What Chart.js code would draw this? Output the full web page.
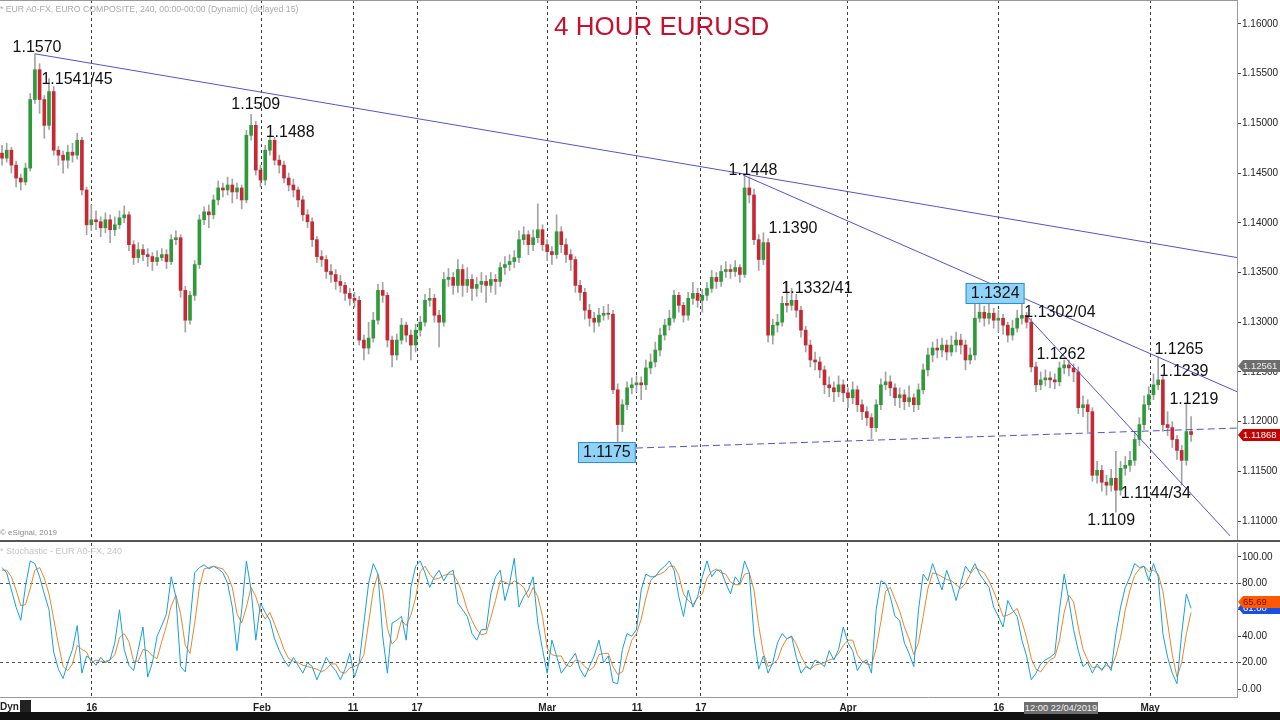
<!DOCTYPE html>
<html>
<head>
<meta charset="utf-8">
<script src="https://cdn.jsdelivr.net/npm/chart.js@4.4.1/dist/chart.umd.min.js"></script>
<style>
  html, body { margin: 0; padding: 0; background: #fff; }
  body { width: 1280px; height: 720px; position: relative; overflow: hidden; font-family: Arial, "Liberation Sans", sans-serif; }
  .abs { position: absolute; white-space: nowrap; }
  #priceWrap { left: 0; top: 0; width: 1280px; height: 540px; }
  #stochWrap { left: 0; top: 541px; width: 1280px; height: 171px; }
</style>
</head>
<body>
<div class="abs" id="priceWrap"><canvas id="price" width="1280" height="540"></canvas></div>
<div class="abs" id="stochWrap"><canvas id="stoch" width="1280" height="171"></canvas></div>

<div class="abs" style="left:0;top:0;width:1237px;height:1px;background:#999"></div>
<div class="abs" style="left:0;top:540px;width:1280px;height:2px;background:#555"></div>
<div class="abs" style="left:0;top:712px;width:1280px;height:8px;background:#111"></div>

<div class="abs" style="left:0;top:4px;font-size:8.7px;color:#aaa">* EUR A0-FX, EURO COMPOSITE, 240, 00:00-00:00 (Dynamic) (delayed 15)</div>
<div class="abs" style="left:554px;top:11px;font-size:26px;color:#c8102e">4 HOUR EURUSD</div>
<div class="abs" style="left:0;top:528px;font-size:8px;color:#888">© eSignal, 2019</div>
<div class="abs" style="left:0;top:546px;font-size:9px;color:#c4c4c4">* Stochastic - EUR A0-FX, 240</div>
<div class="abs" style="left:0;top:701px;font-size:10px;font-weight:bold;color:#222">Dyn</div>
<div class="abs" style="left:20px;top:700px;width:11px;height:12px;background:#222"></div>
<div class="abs" style="left:1024px;top:702px;width:74px;height:12px;background:#6e6e6e;color:#f2f2f2;font-size:9.3px;line-height:12px;text-align:center">12:00 22/04/2019</div>

<script>
// ---- 4h candles, Jan 2019 -> May 2019 (one entry per bar on the chart) ----
const closes = [
  1.1465,1.1473,1.1458,1.1445,1.1441,1.1455,1.1524,1.1554,1.1524,1.1498,
  1.1532,1.1473,1.1468,1.1463,1.1471,1.1468,1.1483,1.1433,1.1398,1.1403,
  1.1401,1.1395,1.1403,1.1393,1.1398,1.1405,1.1408,1.1378,1.1365,1.1373,
  1.1368,1.1366,1.1361,1.1365,1.1368,1.1361,1.1383,1.1385,1.1332,1.1302,
  1.1327,1.1358,1.1403,1.1411,1.1408,1.1423,1.1435,1.1433,1.1438,1.1431,
  1.1435,1.1423,1.1488,1.1498,1.1453,1.1443,1.1473,1.1483,1.1463,1.1458,
  1.1445,1.1438,1.1433,1.1423,1.1408,1.1401,1.1383,1.1366,1.1363,1.1351,
  1.1348,1.1341,1.1337,1.1329,1.1324,1.1322,1.1282,1.1274,1.1284,1.1302,
  1.1332,1.1327,1.1282,1.1267,1.1282,1.1297,1.1287,1.1277,1.1292,1.1300,
  1.1322,1.1324,1.1307,1.1300,1.1343,1.1345,1.1337,1.1353,1.1337,1.1343,
  1.1334,1.1338,1.1341,1.1337,1.1343,1.1341,1.1355,1.1358,1.1361,1.1365,
  1.1383,1.1388,1.1378,1.1385,1.1393,1.1378,1.1371,1.1368,1.1391,1.1378,
  1.1368,1.1363,1.1337,1.1330,1.1312,1.1304,1.1300,1.1307,1.1309,1.1308,
  1.1232,1.1197,1.1217,1.1234,1.1237,1.1239,1.1237,1.1254,1.1260,1.1272,
  1.1287,1.1297,1.1304,1.1327,1.1317,1.1307,1.1324,1.1329,1.1322,1.1327,
  1.1334,1.1345,1.1341,1.1351,1.1353,1.1351,1.1355,1.1348,1.1435,1.1428,
  1.1383,1.1363,1.1380,1.1287,1.1297,1.1300,1.1319,1.1317,1.1322,1.1312,
  1.1292,1.1277,1.1262,1.1260,1.1252,1.1237,1.1234,1.1230,1.1237,1.1229,
  1.1224,1.1232,1.1217,1.1210,1.1204,1.1194,1.1217,1.1237,1.1240,1.1234,
  1.1224,1.1227,1.1220,1.1224,1.1217,1.1232,1.1252,1.1267,1.1274,1.1272,
  1.1277,1.1270,1.1277,1.1282,1.1277,1.1262,1.1267,1.1304,1.1310,1.1304,
  1.1309,1.1302,1.1304,1.1297,1.1287,1.1294,1.1304,1.1307,1.1300,1.1255,
  1.1237,1.1242,1.1244,1.1242,1.1240,1.1254,1.1257,1.1254,1.1250,1.1214,
  1.1217,1.1210,1.1146,1.1151,1.1139,1.1136,1.1143,1.1131,1.1153,1.1156,
  1.1161,1.1182,1.1197,1.1217,1.1227,1.1237,1.1242,1.1197,1.1194,1.1182,
  1.1171,1.1161,1.1190,1.1187
];
const highs = [
  1.1478,1.1480,1.1476,1.1462,1.1449,1.1460,1.1530,1.1570,1.1560,1.1528,
  1.1545,1.1537,1.1477,1.1472,1.1478,1.1480,1.1490,1.1486,1.1436,1.1418,
  1.1412,1.1406,1.1410,1.1408,1.1406,1.1412,1.1417,1.1411,1.1382,1.1380,
  1.1378,1.1374,1.1370,1.1372,1.1374,1.1373,1.1388,1.1392,1.1388,1.1336,
  1.1331,1.1362,1.1408,1.1416,1.1418,1.1428,1.1442,1.1440,1.1446,1.1444,
  1.1440,1.1438,1.1493,1.1509,1.1502,1.1458,1.1478,1.1488,1.1486,1.1468,
  1.1462,1.1450,1.1444,1.1436,1.1427,1.1413,1.1405,1.1386,1.1372,1.1367,
  1.1358,1.1353,1.1347,1.1340,1.1334,1.1330,1.1326,1.1287,1.1300,1.1310,
  1.1338,1.1340,1.1330,1.1286,1.1288,1.1304,1.1300,1.1292,1.1298,1.1306,
  1.1328,1.1334,1.1328,1.1312,1.1350,1.1354,1.1350,1.1363,1.1358,1.1355,
  1.1348,1.1345,1.1350,1.1347,1.1350,1.1348,1.1360,1.1366,1.1368,1.1372,
  1.1392,1.1396,1.1392,1.1393,1.1419,1.1398,1.1383,1.1376,1.1408,1.1396,
  1.1384,1.1373,1.1366,1.1342,1.1334,1.1318,1.1310,1.1314,1.1316,1.1318,
  1.1312,1.1238,1.1222,1.1240,1.1244,1.1246,1.1245,1.1262,1.1268,1.1280,
  1.1294,1.1303,1.1312,1.1332,1.1330,1.1320,1.1330,1.1340,1.1334,1.1333,
  1.1340,1.1352,1.1350,1.1357,1.1361,1.1358,1.1362,1.1358,1.1448,1.1446,
  1.1434,1.1388,1.1390,1.1384,1.1303,1.1308,1.1326,1.1341,1.1334,1.1328,
  1.1316,1.1296,1.1282,1.1270,1.1265,1.1256,1.1245,1.1240,1.1246,1.1242,
  1.1234,1.1240,1.1236,1.1222,1.1215,1.1208,1.1222,1.1243,1.1250,1.1246,
  1.1238,1.1234,1.1232,1.1236,1.1228,1.1238,1.1258,1.1274,1.1280,1.1283,
  1.1284,1.1282,1.1286,1.1290,1.1288,1.1282,1.1274,1.1318,1.1324,1.1316,
  1.1318,1.1314,1.1312,1.1308,1.1300,1.1302,1.1312,1.1320,1.1310,1.1304,
  1.1260,1.1250,1.1252,1.1250,1.1248,1.1260,1.1262,1.1262,1.1258,1.1255,
  1.1226,1.1222,1.1214,1.1160,1.1156,1.1146,1.1152,1.1170,1.1160,1.1165,
  1.1170,1.1190,1.1204,1.1226,1.1235,1.1248,1.1265,1.1246,1.1210,1.1200,
  1.1186,1.1176,1.1219,1.1205
];
const lows = [
  1.1458,1.1461,1.1450,1.1436,1.1433,1.1438,1.1452,1.1520,1.1510,1.1485,
  1.1494,1.1468,1.1458,1.1450,1.1455,1.1461,1.1464,1.1428,1.1388,1.1392,
  1.1393,1.1386,1.1390,1.1380,1.1387,1.1394,1.1400,1.1372,1.1358,1.1360,
  1.1362,1.1356,1.1352,1.1357,1.1362,1.1354,1.1358,1.1378,1.1325,1.1290,
  1.1298,1.1322,1.1354,1.1398,1.1395,1.1404,1.1418,1.1426,1.1428,1.1420,
  1.1424,1.1414,1.1420,1.1483,1.1448,1.1436,1.1438,1.1468,1.1458,1.1450,
  1.1440,1.1432,1.1426,1.1416,1.1402,1.1395,1.1376,1.1360,1.1356,1.1344,
  1.1340,1.1333,1.1330,1.1322,1.1317,1.1315,1.1277,1.1262,1.1268,1.1280,
  1.1298,1.1320,1.1275,1.1255,1.1262,1.1278,1.1280,1.1262,1.1270,1.1286,
  1.1296,1.1316,1.1300,1.1275,1.1296,1.1336,1.1328,1.1330,1.1326,1.1330,
  1.1322,1.1326,1.1330,1.1320,1.1330,1.1328,1.1336,1.1348,1.1352,1.1355,
  1.1360,1.1378,1.1368,1.1372,1.1380,1.1372,1.1362,1.1358,1.1364,1.1370,
  1.1360,1.1352,1.1330,1.1322,1.1303,1.1296,1.1290,1.1296,1.1302,1.1303,
  1.1228,1.1178,1.1190,1.1212,1.1228,1.1230,1.1222,1.1232,1.1248,1.1255,
  1.1266,1.1282,1.1292,1.1300,1.1310,1.1300,1.1302,1.1318,1.1315,1.1310,
  1.1322,1.1330,1.1334,1.1336,1.1345,1.1344,1.1346,1.1340,1.1345,1.1420,
  1.1378,1.1352,1.1358,1.1280,1.1278,1.1290,1.1296,1.1310,1.1312,1.1305,
  1.1285,1.1270,1.1255,1.1252,1.1244,1.1228,1.1225,1.1220,1.1225,1.1220,
  1.1214,1.1218,1.1210,1.1202,1.1196,1.1183,1.1190,1.1212,1.1232,1.1226,
  1.1216,1.1214,1.1212,1.1215,1.1210,1.1212,1.1228,1.1246,1.1260,1.1264,
  1.1265,1.1262,1.1266,1.1270,1.1268,1.1252,1.1258,1.1262,1.1300,1.1296,
  1.1298,1.1294,1.1290,1.1288,1.1280,1.1282,1.1290,1.1298,1.1294,1.1250,
  1.1230,1.1232,1.1236,1.1234,1.1233,1.1236,1.1248,1.1246,1.1240,1.1208,
  1.1205,1.1190,1.1140,1.1138,1.1130,1.1126,1.1130,1.1109,1.1126,1.1146,
  1.1150,1.1156,1.1176,1.1192,1.1212,1.1222,1.1232,1.1190,1.1186,1.1174,
  1.1162,1.1136,1.1156,1.1180
];
// each bar opens where the previous one closed
const firstOpen = 1.1470;
const opens = [firstOpen].concat(closes.slice(0, -1));

// ---- Stochastic (fast line and its slow signal line) ----
const stochK = [
  92,88,75,62,52,78,97,95,85,72, 60,28,15,8,20,30,48,12,25,22,
  18,24,20,22,35,60,30,18,14,30, 47,9,20,40,48,57,85,70,17,13,
  50,88,92,94,91,93,91,88,80,62, 29,60,97,75,37,65,58,52,38,29,
  22,17,24,18,12,20,17,7,15,24, 18,14,7,15,27,9,20,50,80,95,
  87,40,12,50,52,55,37,77,93,97, 88,77,85,90,82,88,90,65,60,55,
  42,37,45,45,72,85,90,67,80,99, 62,70,75,85,50,30,12,37,25,12,
  17,22,27,15,9,17,25,37,20,25, 5,4,30,42,40,45,75,87,85,85,
  90,93,97,90,70,55,75,62,70,85, 97,85,90,90,80,72,85,80,97,88,
  40,15,25,12,20,35,42,38,40,24, 12,17,15,22,20,17,29,22,30,47,
  35,29,14,20,22,12,60,82,80,70, 55,52,35,27,17,60,87,82,95,85,
  75,90,80,67,80,93,88,95,87,82, 77,62,55,47,67,60,55,37,25,7,
  12,19,22,24,27,60,87,67,45,29, 17,20,12,19,14,20,14,42,62,77,
  85,95,92,93,82,95,85,42,24,12, 4,42,72,61
];
const stochD = [
  90,90,85,75,63,64,76,90,92,84, 72,53,34,17,14,19,33,30,28,20,
  22,21,21,22,26,39,42,36,21,21, 30,29,25,23,36,48,63,71,57,33,
  27,50,77,91,92,93,92,91,86,77, 57,50,62,77,70,59,53,58,49,40,
  30,23,21,20,18,17,16,15,13,15, 19,19,13,12,16,17,19,26,50,75,
  87,74,46,34,38,52,48,56,69,89, 93,87,83,84,86,87,87,81,72,60,
  52,45,41,42,54,67,82,81,79,82, 80,77,69,77,70,55,31,26,25,25,
  18,17,22,21,17,14,17,26,27,27, 17,11,13,25,37,42,53,69,82,86,
  87,89,93,93,86,72,67,64,69,72, 84,89,91,88,87,81,79,79,87,88,
  75,48,27,17,19,22,32,38,40,34, 25,18,15,18,19,20,22,23,27,33,
  37,37,26,21,19,18,31,51,74,77, 68,59,47,38,26,35,55,76,88,87,
  85,83,82,79,76,80,87,92,90,88, 82,74,65,55,56,58,61,51,39,23,
  15,13,18,22,24,37,58,71,66,47, 30,22,16,17,15,18,16,25,39,60,
  75,86,91,93,89,90,87,74,50,26, 9,20,42,58
];

// date ticks (bar index where the day starts) and their labels
const tickIdx = [19.1, 55.3, 74.7, 88.3, 116, 135.1, 148.7, 180, 212.1, 244.3];
const tickLabels = ["16", "Feb", "11", "17", "Mar", "11", "17", "Apr", "16", "May"];
const priceTicks = [1.110, 1.115, 1.120, 1.125, 1.130, 1.135, 1.140, 1.145, 1.150, 1.155, 1.160];
const stochTicks = [0, 20, 40, 60, 80, 100];

// hand-drawn trendlines: [startIndex, startPrice, endIndex, endPrice]
const trendLines = [
  [7, 1.1570, 262.8, 1.1365],
  [157.7, 1.1448, 262.8, 1.1230],
  [218.3, 1.1305, 261.3, 1.1085]
];
const supportLine = [134.9, 1.11734, 262.8, 1.11935];

// price notes written on the chart: text, bar index, price
const notes = [
  ["1.1570", 7.45, 1.15769],
  ["1.1541/45", 15.96, 1.15447],
  ["1.1509", 54.0, 1.15195],
  ["1.1488", 61.3, 1.14913],
  ["1.1448", 159.8, 1.14531],
  ["1.1390", 168.3, 1.13948],
  ["1.1332/41", 173.4, 1.13344],
  ["1.1302/04", 225.1, 1.13103],
  ["1.1262", 225.3, 1.12680],
  ["1.1265", 250.4, 1.12730],
  ["1.1239", 251.5, 1.12509],
  ["1.1219", 253.6, 1.12227],
  ["1.1144/34", 245.5, 1.11282],
  ["1.1109", 236.0, 1.11010]
];
const boxedNotes = [
  ["1.1175", 128.7, 1.11694],
  ["1.1324", 211.3, 1.13294]
];

const lastPrice = 1.11868;
const markPrice = 1.12561;
const lastStochK = 65.69;
const lastStochD = 61.0;

const X_MIN = -0.426, X_MAX = 262.77;
const UP = "#2f9a3a", DOWN = "#c62834", WICK = "#a3a3a3";
const LINE = "#5252d6";
const FONT = "Arial, 'Liberation Sans', sans-serif";

function drawTag(ctx, x, y, fill, textColor, text) {
    ctx.save();
    ctx.beginPath();
    ctx.moveTo(x, y);
    ctx.lineTo(x + 5, y - 6);
    ctx.lineTo(1280, y - 6);
    ctx.lineTo(1280, y + 6);
    ctx.lineTo(x + 5, y + 6);
    ctx.closePath();
    ctx.fillStyle = fill;
    ctx.fill();
    ctx.fillStyle = textColor;
    ctx.font = "9.5px " + FONT;
    ctx.textAlign = "left";
    ctx.textBaseline = "middle";
    ctx.fillText(text, x + 5, y + 0.5);
    ctx.restore();
}

// drop the half-label padding Chart.js reserves so the plot fills the panel
const noPad = (w) => (s) => { s.width = w; s.paddingTop = 0; s.paddingBottom = 0; };

const notesPlugin = {
    id: "notes",
    afterDatasetsDraw(chart) {
        const { ctx, scales } = chart;
        ctx.save();
        ctx.font = "16px " + FONT;
        ctx.textAlign = "center";
        ctx.textBaseline = "middle";
        boxedNotes.forEach(([t, i, p]) => {
            const px = scales.x.getPixelForValue(i);
            const py = scales.y.getPixelForValue(p);
            const w = ctx.measureText(t).width + 10;
            ctx.fillStyle = "#8fd4f8";
            ctx.fillRect(px - w / 2, py - 10, w, 21);
            ctx.strokeStyle = "#2d8fd0";
            ctx.lineWidth = 1;
            ctx.strokeRect(px - w / 2 + 0.5, py - 9.5, w - 1, 20);
        });
        ctx.fillStyle = "#111";
        notes.concat(boxedNotes).forEach(([t, i, p]) => {
            ctx.fillText(t, scales.x.getPixelForValue(i), scales.y.getPixelForValue(p) + 1);
        });
        ctx.restore();
    },
    afterDraw(chart) {
        const y = chart.scales.y;
        drawTag(chart.ctx, 1238, Math.round(y.getPixelForValue(markPrice)), "#6d6d6d", "#eeeeee", markPrice.toFixed(5));
        drawTag(chart.ctx, 1238, Math.round(y.getPixelForValue(lastPrice)), "#c40000", "#ffffff", lastPrice.toFixed(5));
    }
};

const stochTagPlugin = {
    id: "stochTags",
    afterDraw(chart) {
        const y = chart.scales.y;
        drawTag(chart.ctx, 1238, Math.round(y.getPixelForValue(lastStochD)), "#1c4fe0", "#ffffff", lastStochD.toFixed(2));
        drawTag(chart.ctx, 1238, Math.round(y.getPixelForValue(lastStochK)), "#ff5a00", "#6a1000", lastStochK.toFixed(2));
    }
};

const lineSet = (pts, dash) => ({
    type: "line",
    data: [{ x: pts[0], y: pts[1] }, { x: pts[2], y: pts[3] }],
    borderColor: LINE,
    borderWidth: 1,
    borderDash: dash || [],
    pointRadius: 0,
    fill: false,
    order: 1
});

const xGrid = {
    type: "linear",
    min: X_MIN,
    max: X_MAX,
    offset: false,
    afterBuildTicks: (s) => { s.ticks = tickIdx.map((v) => ({ value: v })); },
    grid: { color: "#3c3c3c", lineWidth: 1, drawTicks: false, offset: false },
    border: { display: false, dash: [3, 3] }
};

new Chart(document.getElementById("price"), {
    type: "bar",
    data: {
        datasets: [
            {
                data: closes.map((c, i) => ({ x: i, y: [lows[i], highs[i]] })),
                backgroundColor: WICK,
                barThickness: 1,
                grouped: false,
                order: 3
            },
            {
                data: closes.map((c, i) => ({ x: i, y: [opens[i], c] })),
                backgroundColor: (ctx) => (closes[ctx.dataIndex] >= opens[ctx.dataIndex] ? UP : DOWN),
                barThickness: 3,
                minBarLength: 1,
                grouped: false,
                order: 2
            },
            ...trendLines.map((t) => lineSet(t)),
            lineSet(supportLine, [7, 4])
        ]
    },
    options: {
        responsive: false,
        animation: false,
        devicePixelRatio: 1,
        layout: { padding: 0 },
        plugins: { legend: { display: false }, tooltip: { enabled: false } },
        scales: {
            x: Object.assign({}, xGrid, {
                ticks: { display: false },
                afterFit: (s) => { s.height = 0; s.paddingLeft = 0; s.paddingRight = 0; }
            }),
            y: {
                position: "right",
                min: 1.10809,
                max: 1.16241,
                afterBuildTicks: (s) => { s.ticks = priceTicks.map((v) => ({ value: v })); },
                afterFit: noPad(43),
                ticks: { callback: (v) => v.toFixed(5), font: { size: 10, family: FONT }, color: "#222", padding: 1 },
                grid: { drawOnChartArea: false, tickLength: 4, tickColor: "#444" },
                border: { color: "#9a9a9a" }
            }
        }
    },
    plugins: [notesPlugin]
});

new Chart(document.getElementById("stoch"), {
    type: "line",
    data: {
        datasets: [
            {
                data: stochD.map((v, i) => ({ x: i, y: v })),
                borderColor: "#e8862a",
                borderWidth: 1,
                pointRadius: 0,
                order: 2
            },
            {
                data: stochK.map((v, i) => ({ x: i, y: v })),
                borderColor: "#16a0dc",
                borderWidth: 1,
                pointRadius: 0,
                order: 1
            }
        ]
    },
    options: {
        responsive: false,
        animation: false,
        devicePixelRatio: 1,
        layout: { padding: { top: 2 } },
        plugins: { legend: { display: false }, tooltip: { enabled: false } },
        scales: {
            x: Object.assign({}, xGrid, {
                border: { display: true, color: "#9a9a9a", dash: [3, 3] },
                ticks: {
                    autoSkip: false,
                    maxRotation: 0,
                    padding: 5,
                    font: { size: 10, weight: "bold", family: FONT },
                    color: "#222",
                    callback: (v) => tickLabels[tickIdx.indexOf(v)]
                },
                afterFit: (s) => { s.height = 15; s.paddingLeft = 0; s.paddingRight = 0; }
            }),
            y: {
                position: "right",
                min: -6.06,
                max: 110.6,
                afterBuildTicks: (s) => { s.ticks = stochTicks.map((v) => ({ value: v })); },
                afterFit: noPad(43),
                ticks: { callback: (v) => v.toFixed(2), font: { size: 10, family: FONT }, color: "#222", padding: 1 },
                grid: {
                    color: (c) => (c.tick && (c.tick.value === 20 || c.tick.value === 80) ? "#555" : "rgba(0,0,0,0)"),
                    tickLength: 4,
                    tickColor: "#444"
                },
                border: { color: "#9a9a9a", dash: [3, 3] }
            }
        }
    },
    plugins: [stochTagPlugin]
});
</script>
</body>
</html>
